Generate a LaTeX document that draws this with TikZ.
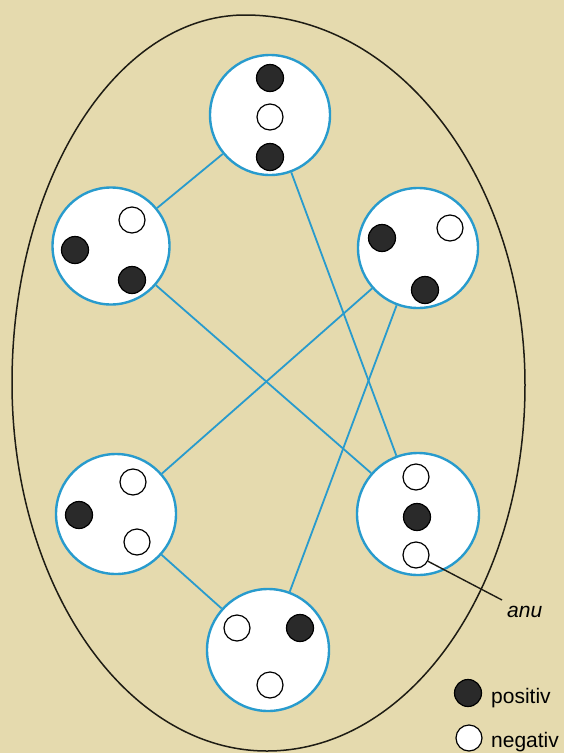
\documentclass[tikz,border=0pt]{standalone}
\usepackage{fontspec}
\setmainfont{Liberation Sans}
\definecolor{bg}{RGB}{229,218,174}
\definecolor{cyanline}{RGB}{40,155,205}
\definecolor{dotblack}{RGB}{42,42,42}
\definecolor{rim}{RGB}{30,28,20}
\begin{document}
\begin{tikzpicture}[x=1pt,y=-1pt,
  cell/.style={circle, draw=cyanline, line width=2.4pt, fill=white, inner sep=0pt, minimum size=#1},
  posdot/.style={circle, draw=black, line width=1.2pt, fill=dotblack, inner sep=0pt, minimum size=27pt},
  negdot/.style={circle, draw=black, line width=1.2pt, fill=white, inner sep=0pt, minimum size=26pt},
  link/.style={draw=cyanline, line width=1.8pt},
  lbl/.style={inner sep=0pt, font=\fontsize{21}{25}\selectfont}]
\useasboundingbox (0,0) rectangle (564,753);
\fill[bg] (0,0) rectangle (564,753);
% outer oval
\draw[rim, line width=1.5pt] (245,15) .. controls (399.6,15) and (525,180.6) .. (525,385)
  .. controls (525,587.1) and (409.5,751) .. (267,751)
  .. controls (126.2,751) and (12,586.2) .. (12,383)
  .. controls (12,179.8) and (116.3,15) .. cycle;
% cells
\node[cell=120pt] (c1) at (270,115) {};
\node[cell=117pt] (c2) at (111,246) {};
\node[cell=120pt] (c3) at (418,248) {};
\node[cell=120pt] (c4) at (116,514) {};
\node[cell=122pt] (c5) at (418,514) {};
\node[cell=122pt] (c6) at (268,650) {};
% connectors
\draw[link] (c1) -- (c2);
\draw[link] (c1) -- (c5);
\draw[link] (c2) -- (c5);
\draw[link] (c3) -- (c4);
\draw[link] (c3) -- (c6);
\draw[link] (c4) -- (c6);
% dots
\node[posdot] (c1a) at (270,78) {};
\node[negdot] (c1b) at (270,117) {};
\node[posdot] (c1c) at (270,157) {};
\node[negdot] (c2a) at (132,220) {};
\node[posdot] (c2b) at (75,250) {};
\node[posdot] (c2c) at (132,280) {};
\node[posdot] (c3a) at (382,238) {};
\node[negdot] (c3b) at (450,228) {};
\node[posdot] (c3c) at (425,290) {};
\node[negdot] (c4a) at (133,482) {};
\node[posdot] (c4b) at (79,515) {};
\node[negdot] (c4c) at (137,542) {};
\node[negdot] (c5a) at (416,477) {};
\node[posdot] (c5b) at (417,517) {};
\node[negdot] (c5c) at (416,555) {};
\node[negdot] (c6a) at (237,628) {};
\node[posdot] (c6b) at (300,628) {};
\node[negdot] (c6c) at (270,685) {};
% label anu
\coordinate (anuend) at (502,600);
\draw[rim, line width=1.4pt] (c5c) -- (anuend);
\node[lbl, anchor=base west] (anu) at (507,617) {\itshape anu};
% legend
\node[posdot] (lgpos) at (468,693) {};
\node[negdot] (lgneg) at (469,738) {};
\node[lbl, anchor=base west] (tpos) at (491,703) {positiv};
\node[lbl, anchor=base west] (tneg) at (491,747) {negativ};
\end{tikzpicture}
\end{document}
